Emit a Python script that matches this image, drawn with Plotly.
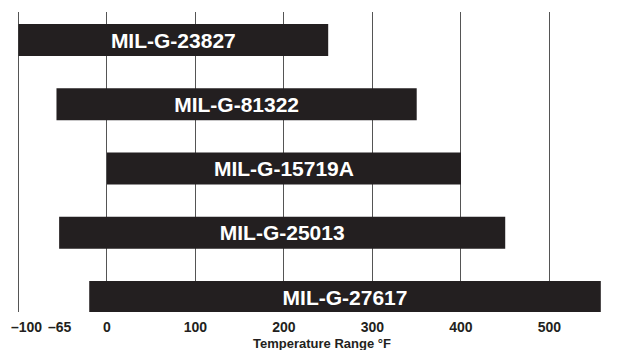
import plotly.graph_objects as go

specs = ["MIL-G-23827", "MIL-G-81322", "MIL-G-15719A", "MIL-G-25013", "MIL-G-27617"]
low_f = [-100, -57, 0, -54, -20]
high_f = [250, 350, 400, 450, 558]
grid_vals = [-100, 0, 100, 200, 300, 400, 500]
grid_text = ["", "0", "100", "200", "300", "400", "500"]

span = [h - l for l, h in zip(low_f, high_f)]

fig = go.Figure()
fig.add_trace(go.Bar(
    y=specs, x=span, base=low_f, orientation="h",
    width=0.5,
    marker=dict(color="#231f20", line=dict(width=0)),
    text=specs, textposition="inside", insidetextanchor="middle",
    textangle=0,
    textfont=dict(family="Liberation Sans, Arial, sans-serif", size=21, color="white"),
    texttemplate="<b>%{text}</b>",
    hoverinfo="skip",
))

fig.update_layout(
    width=624, height=350,
    margin=dict(l=14, r=17, t=12, b=38),
    plot_bgcolor="white", paper_bgcolor="white",
    showlegend=False,
    font=dict(family="Liberation Sans, Arial, sans-serif", color="#231f20"),
    xaxis=dict(
        range=[-105, 565],
        tickvals=grid_vals, ticktext=["<b>%s</b>" % t if t else "" for t in grid_text],
        tickfont=dict(size=14, color="#231f20"),
        showgrid=True, gridcolor="#555555", gridwidth=1,
        zeroline=False, showline=False,
        ticks="outside", ticklen=2, tickcolor="rgba(0,0,0,0)",
        automargin=False,
    ),
    yaxis=dict(
        type="category", categoryorder="array", categoryarray=specs,
        range=[4.233, -0.436],
        showticklabels=False, showgrid=False, zeroline=False, showline=False,
    ),
    annotations=[
        dict(x=-90.7, y=0, xref="x", yref="paper", yanchor="top", yshift=-5,
             text="<b>\u2013100</b>", showarrow=False, font=dict(size=14, color="#231f20")),
        dict(x=-53.4, y=0, xref="x", yref="paper", yanchor="top", yshift=-5,
             text="<b>\u201365</b>", showarrow=False, font=dict(size=14, color="#231f20")),
        dict(x=243.5, y=0, xref="x", yref="paper", yanchor="top", yshift=-22,
             text="<b>Temperature Range \u00b0F</b>", showarrow=False,
             font=dict(size=13, color="#231f20")),
    ],
)

fig.write_html("out.html", config={"displayModeBar": False},
               post_script="document.body.style.margin='0px';")
